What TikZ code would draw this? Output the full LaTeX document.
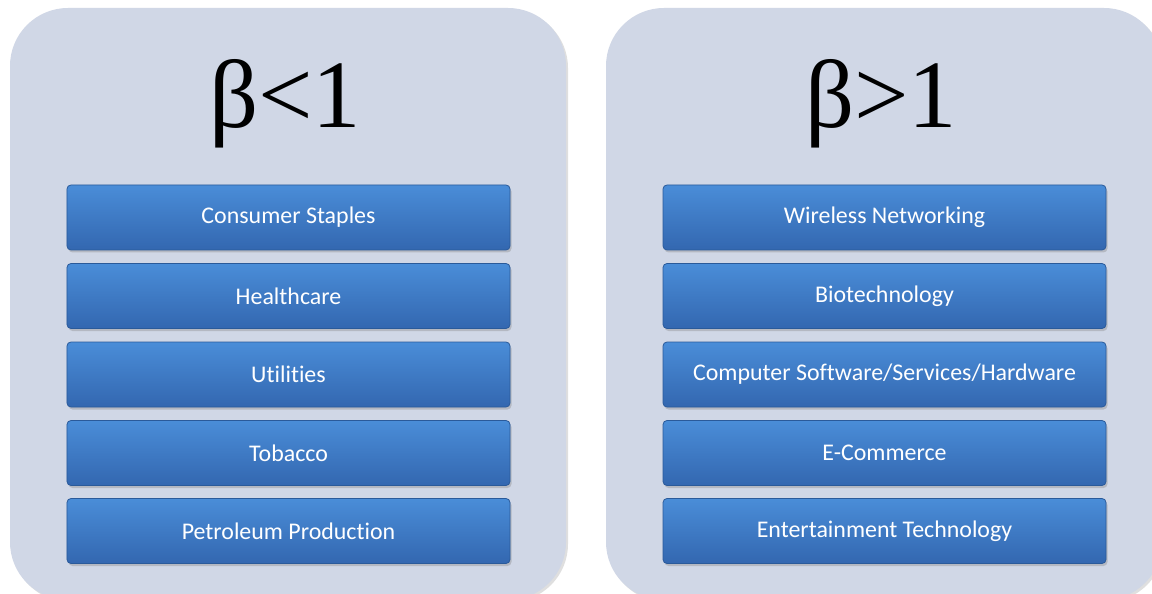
\documentclass[tikz,border=0pt]{standalone}
\usepackage{fontspec}
\setmainfont{Liberation Serif}
\newfontfamily\labelfont[Ligatures=NoCommon]{Carlito}
\usetikzlibrary{shadows}
\definecolor{panelbg}{HTML}{D0D7E6}
\definecolor{boxtop}{HTML}{4A8DD8}
\definecolor{boxbot}{HTML}{3367B0}
\definecolor{boxedge}{HTML}{2A5A9A}
\definecolor{bevel}{HTML}{7DB5EF}
\tikzset{
  panel/.style={fill=panelbg, rounded corners=58bp, draw=none,
    drop shadow={shadow xshift=2bp, shadow yshift=-2bp, opacity=0.25}},
  catbox/.style={rounded corners=4bp, top color=boxtop, bottom color=boxbot,
    draw=boxedge, line width=0.8bp, minimum width=443bp, minimum height=65bp,
    text=white, font=\labelfont\fontsize{24}{28}\selectfont, inner sep=0pt,
    drop shadow={shadow xshift=1.5bp, shadow yshift=-2.5bp, opacity=0.35},
    append after command={
      \pgfextra{\draw[bevel, line width=2bp, line cap=round]
        ([xshift=6bp,yshift=-3bp]\tikzlastnode.north west) --
        ([xshift=-6bp,yshift=-3bp]\tikzlastnode.north east);}}},
  beta/.style={font=\fontsize{97}{100}\selectfont, inner sep=0pt, anchor=base}
}
\begin{document}
\begin{tikzpicture}[x=1bp,y=-1bp]
\useasboundingbox (0,0) rectangle (1152,594);
\clip (0,0) rectangle (1152,594);
\fill[white] (0,0) rectangle (1152,594);
% panels
\path[panel] (10,8) rectangle (566,600);
\path[panel] (606,8) rectangle (1162,600);
% titles
\node[beta] (tl) at (285,128) {β<1};
\node[beta] (tr) at (881,128) {β>1};
% left boxes
\node[catbox] (l1) at (288.5,217.5) {Consumer Staples};
\node[catbox] (l2) at (288.5,296) {Healthcare};
\node[catbox] (l3) at (288.5,374.5) {Utilities};
\node[catbox] (l4) at (288.5,453) {Tobacco};
\node[catbox] (l5) at (288.5,531) {Petroleum Production};
% right boxes
\node[catbox] (r1) at (884.5,217.5) {Wireless Networking};
\node[catbox] (r2) at (884.5,296) {Biotechnology};
\node[catbox] (r3) at (884.5,374.5) {Computer Software/Services/Hardware};
\node[catbox] (r4) at (884.5,453) {E-Commerce};
\node[catbox] (r5) at (884.5,531) {Entertainment Technology};
\end{tikzpicture}
\end{document}
